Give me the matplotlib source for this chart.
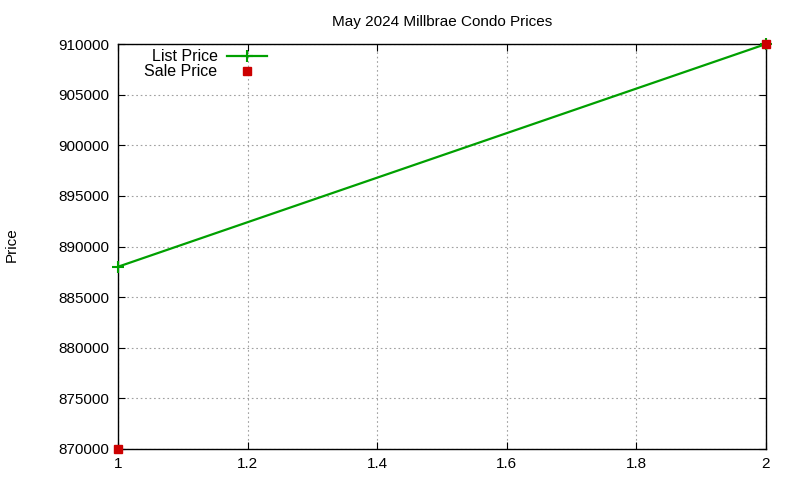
import matplotlib
matplotlib.use("Agg")
import matplotlib.pyplot as plt

x_vals = [1, 2]
list_price = [888000, 910000]
sale_price = [870000, 910000]
x_ticks = [1, 1.2, 1.4, 1.6, 1.8, 2]
y_ticks = [870000, 875000, 880000, 885000, 890000, 895000, 900000, 905000, 910000]

plt.rcParams['font.family'] = ['Liberation Sans', 'DejaVu Sans']
plt.rcParams['font.size'] = 11

fig = plt.figure(figsize=(8, 4.8), dpi=100)
ax = fig.add_axes([0.1475, 0.0646, 0.81, 0.8437])

ax.plot(x_vals, list_price, color='#00a000', lw=1.6, marker='+', ms=8, mew=1.5, label='List Price',
        clip_on=False, zorder=4)
ax.plot(x_vals, sale_price, color='#cc0000', lw=0, marker='s', ms=6, label='Sale Price', clip_on=False, zorder=5)

ax.set_xlim(1, 2)
ax.set_ylim(870000, 910000)
ax.set_xticks(x_ticks)
ax.set_xticklabels(['1', '1.2', '1.4', '1.6', '1.8', '2'])
ax.set_yticks(y_ticks)
ax.set_yticklabels([str(v) for v in y_ticks])
ax.grid(True, color='#a0a0a0', linestyle=(0, (1.5, 2.5)), lw=0.8)
ax.tick_params(direction='in', top=True, right=True, length=5, width=0.8, pad=6)
for s in ax.spines.values():
    s.set_linewidth(1.0)

ax.set_title('May 2024 Millbrae Condo Prices', fontsize=11, pad=13)
fig.text(0.015, 0.49, 'Price', rotation=90, va='center', ha='center', fontsize=11)

ax.legend(loc='upper left', bbox_to_anchor=(0.031, 1.003), frameon=False, markerfirst=False,
          handlelength=2.5, borderaxespad=0, labelspacing=0.0, handletextpad=0.6,
          fontsize=11.5)

fig.savefig('out.png', dpi=100)
